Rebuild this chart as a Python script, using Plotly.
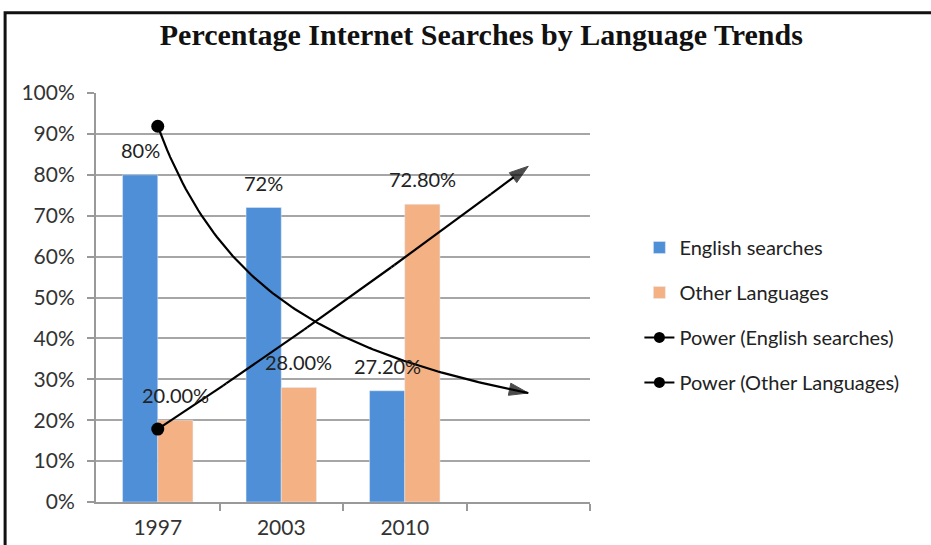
import numpy as np
import plotly.graph_objects as go

years = ["1997", "2003", "2010"]
english = [0.80, 0.72, 0.272]
other = [0.20, 0.28, 0.728]
english_labels = ["80%", "72%", "27.20%"]
other_labels = ["20.00%", "28.00%", "72.80%"]
y_ticks = [0, 0.1, 0.2, 0.3, 0.4, 0.5, 0.6, 0.7, 0.8, 0.9, 1.0]

BLUE = "#4F8FD7"
ORANGE = "#F4B183"
FONT = "Lato"
TXT = "#333333"
BARGAP = 0.43

xpos = np.arange(1, len(years) + 1)

fig = go.Figure()
fig.add_trace(go.Bar(x=xpos, y=english, name="English searches", marker_color=BLUE,
                     legendgroup="a"))
fig.add_trace(go.Bar(x=xpos, y=other, name="Other Languages", marker_color=ORANGE,
                     legendgroup="b"))

# Power trendlines (fitted to data, forecast one period forward)
def power_fit(vals):
    b, lna = np.polyfit(np.log(xpos), np.log(vals), 1)
    return np.exp(lna), b

xt = np.linspace(1, len(years) + 1, 120)
for vals, nm, grp in [(english, "Power (English searches)", "c"),
                      (other, "Power (Other Languages)", "d")]:
    a, b = power_fit(vals)
    yt = a * xt ** b
    n = len(xt)
    sizes = [0] * (n - 1) + [20]
    fig.add_trace(go.Scatter(x=xt, y=yt, mode="lines+markers", name=nm,
                             legendgroup=grp, showlegend=False,
                             line=dict(color="black", width=2.2),
                             marker=dict(symbol="arrow", size=sizes, color="black",
                                         angleref="previous",
                                         line=dict(width=1, color="black"))))
    fig.add_trace(go.Scatter(x=[xt[0]], y=[yt[0]], mode="markers", name=nm,
                             legendgroup=grp, showlegend=False,
                             marker=dict(symbol="circle", size=13, color="black")))
    fig.add_trace(go.Scatter(x=[None], y=[None], mode="lines+markers", name=nm,
                             legendgroup=grp, showlegend=True,
                             line=dict(color="black", width=2),
                             marker=dict(symbol="circle", size=11, color="black")))

bw = (1 - BARGAP) / 2
for i, (lab, v) in enumerate(zip(english_labels, english)):
    fig.add_annotation(x=xpos[i] - bw / 2, y=v, text=lab, showarrow=False,
                       yshift=25, font=dict(family=FONT, size=20, color="#222"))
for i, (lab, v) in enumerate(zip(other_labels, other)):
    fig.add_annotation(x=xpos[i] + bw / 2, y=v, text=lab, showarrow=False,
                       yshift=25, font=dict(family=FONT, size=20, color="#222"))

# outer frame
fig.add_shape(type="rect", xref="paper", yref="paper",
              x0=-0.184, x1=1.75, y0=-0.2, y1=1.196,
              line=dict(color="#111", width=3), layer="below")

fig.update_layout(
    width=931, height=545,
    margin=dict(l=96, r=341, t=93, b=43, autoexpand=False),
    paper_bgcolor="white", plot_bgcolor="white",
    barmode="group", bargap=BARGAP, bargroupgap=0,
    font=dict(family=FONT, size=20, color=TXT),
    title=dict(text="<b>Percentage Internet Searches by Language Trends</b>",
               x=0.517, xanchor="center", y=1 - 34 / 545, yanchor="middle",
               font=dict(family="Liberation Serif", size=30, color="#111")),
    legend=dict(x=1.1, xanchor="left", y=0.67, yanchor="top",
                tracegroupgap=16, font=dict(family=FONT, size=20, color="#222"),
                bgcolor="rgba(0,0,0,0)"),
    showlegend=True,
)
fig.update_xaxes(range=[0.5, len(years) + 1.5], tickvals=list(xpos), ticktext=years,
                 ticks="", showgrid=False, showline=True, linecolor="#999", linewidth=2,
                 zeroline=False, automargin=False,
                 minor=dict(tickmode="array", tickvals=[1.5, 2.5, 3.5, 4.5],
                            ticks="outside", ticklen=7, tickcolor="#999", tickwidth=2,
                            showgrid=False),
                 ticklabelstandoff=6, tickfont=dict(family=FONT, size=21, color=TXT))
fig.update_yaxes(range=[0, 1.0], tickvals=y_ticks, tickformat=".0%",
                 showgrid=True, gridcolor="#A6A6A6", gridwidth=2,
                 showline=True, linecolor="#999", linewidth=2,
                 ticks="outside", ticklen=7, tickcolor="#999", tickwidth=2,
                 zeroline=False, ticklabelstandoff=8, automargin=False,
                 tickfont=dict(family=FONT, size=21, color=TXT))

fig.write_html("out.html")
